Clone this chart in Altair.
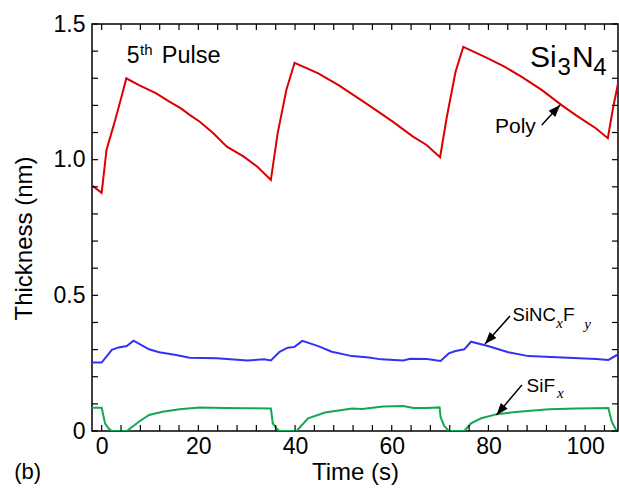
import altair as alt
import pandas as pd

# ---------------- data ----------------
poly_t = [-2.0, 0.0, 1.0, 2.8, 4.2, 5.1, 7.7, 11.2, 14.0, 16.4, 18.2, 20.3, 23.1, 25.9, 29.4, 32.2, 35.0,
          36.4, 38.2, 39.9, 44.8, 49.0, 51.1, 55.3, 60.2, 64.4, 67.2, 70.0,
          71.4, 73.2, 74.8, 79.8, 83.3, 86.8, 91.0, 95.2, 98.0, 100.1, 102.2, 104.7, 105.7, 106.8]
poly_v = [0.905, 0.878, 1.036, 1.146, 1.238, 1.300, 1.275, 1.245, 1.214, 1.189, 1.165, 1.140, 1.097, 1.048, 1.011, 0.974, 0.925,
          1.097, 1.257, 1.357, 1.318, 1.275, 1.250, 1.200, 1.140, 1.085, 1.054, 1.009,
          1.158, 1.324, 1.416, 1.374, 1.343, 1.306, 1.257, 1.200, 1.165, 1.140, 1.116, 1.079, 1.183, 1.281]

sincf_t = [-2.0, 0.0, 2.1, 3.5, 5.2, 6.6, 9.8, 11.9, 15.4, 18.2, 23.8, 30.1, 33.6, 35.0,
           36.8, 38.5, 39.9, 41.5, 44.8, 47.6, 51.8, 55.3, 57.8, 62.4, 63.8, 67.3, 70.1,
           71.8, 73.2, 75.0, 76.4, 79.9, 84.1, 88.3, 95.3, 102.3, 104.8, 106.8]
sincf_v = [0.252, 0.252, 0.299, 0.308, 0.313, 0.333, 0.301, 0.290, 0.280, 0.270, 0.268, 0.260, 0.264, 0.260,
           0.292, 0.307, 0.310, 0.332, 0.313, 0.292, 0.276, 0.271, 0.264, 0.260, 0.266, 0.265, 0.258,
           0.286, 0.295, 0.301, 0.329, 0.313, 0.290, 0.276, 0.271, 0.265, 0.262, 0.282]

sifx_t = [-2.0, 0.0, 0.7, 1.4, 2.1, 5.2, 7.7, 9.8, 12.6, 16.1, 20.3, 25.2, 30.1, 35.0,
          35.4, 36.1, 36.8, 40.3, 42.7, 46.2, 49.7, 51.8, 53.9, 58.2, 62.4, 64.5, 67.3, 69.9,
          70.1, 70.8, 71.8, 75.0, 76.4, 78.5, 82.0, 86.2, 92.5, 98.1, 104.8, 105.5, 106.5]
sifx_v = [0.086, 0.086, 0.028, 0.010, 0.0, 0.0, 0.034, 0.059, 0.071, 0.080, 0.087, 0.085, 0.084, 0.083,
          0.028, 0.010, 0.0, 0.0, 0.047, 0.068, 0.077, 0.083, 0.081, 0.090, 0.092, 0.085, 0.085, 0.087,
          0.052, 0.020, 0.0, 0.0, 0.028, 0.047, 0.063, 0.071, 0.080, 0.083, 0.085, 0.035, 0.0]

series_names = ["Poly", "SiNCxFy", "SiFx"]
series_colors = ["#dc0000", "#3232f5", "#13a84f"]

x_major = [0, 20, 40, 60, 80, 100]
x_minor = list(range(0, 105, 4))
y_major = [0, 0.5, 1.0, 1.5]
y_minor = [round(i * 0.1, 1) for i in range(0, 16)]

# ---------------- tables ----------------
df = pd.concat([
    pd.DataFrame({"t": poly_t, "v": poly_v, "series": "Poly"}),
    pd.DataFrame({"t": sincf_t, "v": sincf_v, "series": "SiNCxFy"}),
    pd.DataFrame({"t": sifx_t, "v": sifx_v, "series": "SiFx"}),
], ignore_index=True)

W, H = 526, 407
xs = alt.Scale(domain=[-2, 106.8], nice=False, zero=False)
ys = alt.Scale(domain=[0, 1.5], nice=False, zero=False)

FONT = "Liberation Sans"

xa = alt.Axis(
    values=x_major, ticks=False, domain=False, grid=False, title="Time (s)",
    labelFont=FONT, labelFontSize=23, labelColor="black", labelPadding=4,
    titleFont=FONT, titleFontSize=24, titleFontWeight="normal", titleColor="black",
    titleBaseline="alphabetic", titleY=48)
ya = alt.Axis(
    values=y_major, ticks=False, domain=False, grid=False, title="Thickness (nm)",
    labelExpr="datum.value == 0 ? '0' : format(datum.value, '.1f')",
    labelFont=FONT, labelFontSize=23, labelColor="black", labelPadding=7,
    titleFont=FONT, titleFontSize=24, titleFontWeight="normal", titleColor="black",
    titleAngle=270, titleAlign="center", titleBaseline="middle", titleX=-68, titleY=214)


def X(field):
    return alt.X(field, scale=xs, axis=xa, title="Time (s)")


def Y(field):
    return alt.Y(field, scale=ys, axis=ya, title="Thickness (nm)")


lines = alt.Chart(df).mark_line(strokeWidth=2, clip=True).encode(
    x=X("t:Q"), y=Y("v:Q"),
    color=alt.Color("series:N", scale=alt.Scale(domain=series_names, range=series_colors), legend=None),
    detail="series:N",
)

# inward ticks
xt = pd.DataFrame({"t": x_minor})
yt = pd.DataFrame({"v": y_minor})
TL = 6
tick_style = dict(color="black", strokeWidth=1.2)
bx = alt.Chart(xt).mark_rule(**tick_style).encode(x=X("t:Q"), y=alt.value(H), y2=alt.value(H - TL))
tx = alt.Chart(xt).mark_rule(**tick_style).encode(x=X("t:Q"), y=alt.value(0), y2=alt.value(TL))
ly = alt.Chart(yt).mark_rule(**tick_style).encode(y=Y("v:Q"), x=alt.value(0), x2=alt.value(TL))
ry = alt.Chart(yt).mark_rule(**tick_style).encode(y=Y("v:Q"), x=alt.value(W), x2=alt.value(W - TL))

# annotations (data coordinates)
ann_sans = pd.DataFrame([
    {"text": "5", "t": 5.18, "v": 1.355, "size": 23},
    {"text": "th", "t": 7.95, "v": 1.386, "size": 15},
    {"text": "Pulse", "t": 12.42, "v": 1.355, "size": 23.5},
    {"text": "Si", "t": 88.6, "v": 1.343, "size": 30},
    {"text": "3", "t": 94.29, "v": 1.312, "size": 24},
    {"text": "N", "t": 97.29, "v": 1.343, "size": 30},
    {"text": "4", "t": 101.7, "v": 1.312, "size": 24},
    {"text": "Poly", "t": 81.36, "v": 1.097, "size": 21},
    {"text": "SiNC", "t": 85.0, "v": 0.4065, "size": 18.5},
    {"text": "F", "t": 95.4, "v": 0.4065, "size": 19},
    {"text": "SiF", "t": 87.87, "v": 0.1448, "size": 19},
    {"text": "(b)", "t": -18.1, "v": -0.177, "size": 22},
])
ann_ital = pd.DataFrame([
    {"text": "x", "t": 94.05, "v": 0.380, "size": 15},
    {"text": "y", "t": 99.8, "v": 0.376, "size": 15},
    {"text": "x", "t": 94.18, "v": 0.1216, "size": 15},
])
txt_sans = alt.Chart(ann_sans).mark_text(align="left", baseline="alphabetic", font=FONT, color="black").encode(
    x=X("t:Q"), y=Y("v:Q"), text="text:N", size=alt.Size("size:Q", scale=None))
txt_ital = alt.Chart(ann_ital).mark_text(align="left", baseline="alphabetic", font="Liberation Serif",
                                         fontStyle="italic", color="black").encode(
    x=X("t:Q"), y=Y("v:Q"), text="text:N", size=alt.Size("size:Q", scale=None))

arrows = pd.DataFrame([
    {"t0": 91.04, "v0": 1.128, "t1": 94.82, "v1": 1.2015, "ang": 42.5},
    {"t0": 84.46, "v0": 0.4238, "t1": 79.29, "v1": 0.3206, "ang": 221.8},
    {"t0": 86.92, "v0": 0.1695, "t1": 81.67, "v1": 0.059, "ang": 220.3},
])
arrow_lines = alt.Chart(arrows).mark_rule(color="black", strokeWidth=1.5).encode(
    x=X("t0:Q"), y=Y("v0:Q"), x2="t1:Q", y2="v1:Q")
arrow_heads = alt.Chart(arrows).mark_point(
    shape="M0,0 L0.75,2 L-0.75,2 Z", filled=True, color="black", opacity=1, size=144, strokeWidth=0).encode(
    x=X("t1:Q"), y=Y("v1:Q"), angle=alt.Angle("ang:Q", scale=None))

chart = alt.layer(lines, bx, tx, ly, ry, arrow_lines, arrow_heads, txt_sans, txt_ital).properties(
    width=W, height=H,
    autosize=alt.AutoSizeParams(type="none"),
    padding={"left": 92, "top": 24, "right": 1, "bottom": 58},
    background="white",
).configure_view(stroke="black", strokeWidth=1.5)

chart.save("out.html", embed_options={"renderer": "svg", "actions": False})
